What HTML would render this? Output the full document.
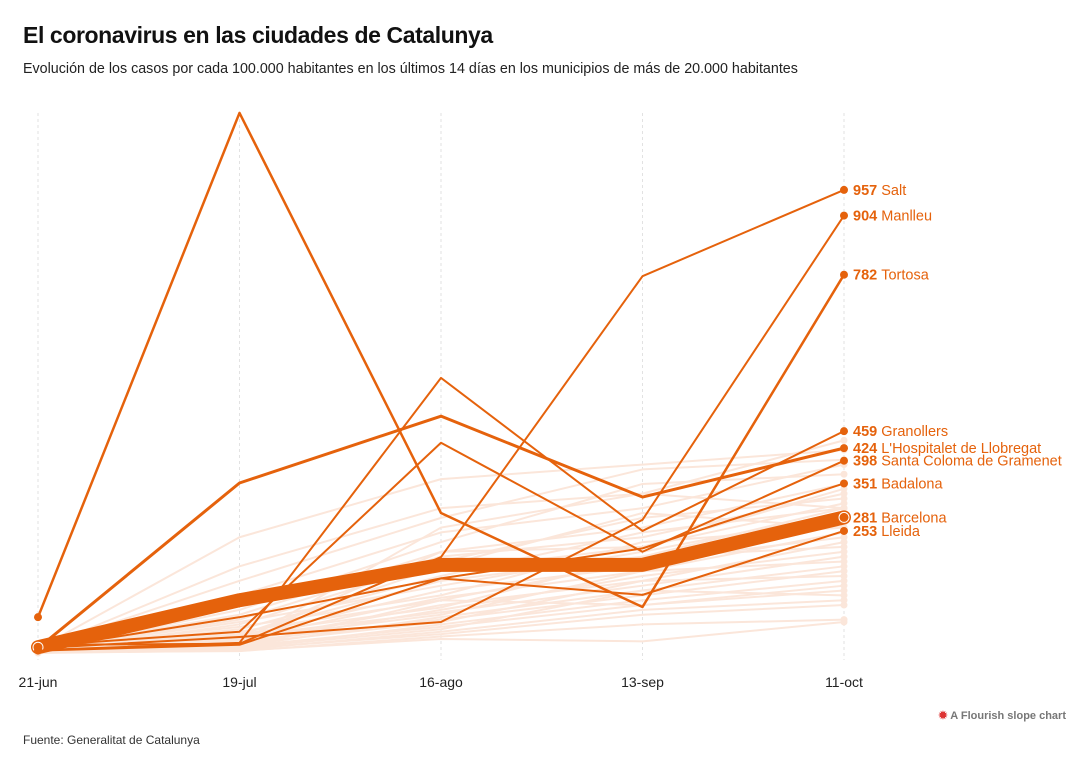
<!DOCTYPE html>
<html><head><meta charset="utf-8">
<style>
body{margin:0;background:#fff;font-family:"Liberation Sans",sans-serif;}
#wrap{position:relative;width:1090px;height:766px;overflow:hidden;}
h1{position:absolute;left:23px;top:22px;margin:0;font-size:23px;font-weight:bold;color:#111;letter-spacing:-0.4px;}
.sub{position:absolute;left:23px;top:61px;font-size:14.3px;color:#222;}
.foot{position:absolute;left:23px;top:733px;font-size:12px;color:#333;}
.credit{position:absolute;right:24px;top:709px;font-size:11px;font-weight:bold;color:#777;}
svg{position:absolute;left:0;top:0;}
</style></head><body>
<div id="wrap">
<h1>El coronavirus en las ciudades de Catalunya</h1>
<div class="sub">Evolución de los casos por cada 100.000 habitantes en los últimos 14 días en los municipios de más de 20.000 habitantes</div>
<svg id="chart" width="1090" height="766"></svg>
<div class="credit"><span style="color:#d33">✹</span> A Flourish slope chart</div>
<div class="foot">Fuente: Generalitat de Catalunya</div>
</div>
<script>
const dates = ["21-jun","19-jul","16-ago","13-sep","11-oct"];
const highNames = ["Salt","Manlleu","Tortosa","Granollers","L'Hospitalet de Llobregat","Santa Coloma de Gramenet","Badalona","Barcelona","Lleida"];
const highValues = [
 [18,20,199,779,957],
 [11,34,65,276,904],
 [75,1116,290,96,782],
 [7,22,569,253,459],
 [11,352,490,323,424],
 [16,45,435,210,398],
 [9,75,155,217,351],
 [13,110,183,183,281],
 [6,18,155,121,253]
];
const highWidths = [2,2,2.5,2,3,2,2,14,2];
const fadedValues = [
 [10,240,360,390,420],[8,180,300,330,440],[12,150,280,380,400],[6,120,250,300,390],
 [5,90,230,350,370],[9,80,210,260,350],[7,70,200,240,330],[4,60,190,280,320],
 [11,100,170,220,310],[6,50,160,250,300],[3,40,150,200,300],[8,65,140,210,290],
 [5,35,130,180,270],[10,55,120,230,260],[4,30,115,170,250],[7,45,110,190,240],
 [3,25,100,150,230],[6,40,95,200,220],[2,20,90,160,210],[5,35,85,140,200],
 [8,30,80,170,190],[3,15,75,130,180],[4,25,70,120,170],[6,20,65,150,160],
 [2,10,60,110,150],[5,15,55,100,140],[3,12,50,130,120],[4,8,45,90,110],
 [2,10,40,80,100],[3,5,35,60,70],[1,6,30,25,65],[4,12,110,100,130],
 [6,28,210,220,340],[5,22,260,330,300],[7,38,180,290,260]
];
const svg = document.getElementById('chart');
const NS = 'http://www.w3.org/2000/svg';
const x0 = 38, xStep = 201.5;
function xs(i){return x0 + i*xStep;}
function ys(v){return 653.5 - v*0.4844;}
function mk(tag, attrs){const e=document.createElementNS(NS,tag);for(const k in attrs)e.setAttribute(k,attrs[k]);svg.appendChild(e);return e;}
const ORANGE = '#e5620c', FADE = '#fbe6da';
dates.forEach((d,i)=>{
  const g = mk('line',{x1:xs(i),x2:xs(i),y1:113,y2:660,stroke:'#e2e2e2','stroke-dasharray':'3,3','stroke-width':1});
  
  
  const t = mk('text',{x:xs(i),y:687,'text-anchor':'middle','font-size':14,fill:'#222','font-family':'Liberation Sans, sans-serif'});
  t.textContent = d;
  
  
});
function pts(vals){return vals.map((v,i)=>xs(i)+','+ys(v)).join(' ');}
fadedValues.forEach((vals,k)=>{
  const p = mk('polyline',{points:pts(vals),fill:'none',stroke:FADE,'stroke-width':2,'stroke-linejoin':'round'});
  
  
  [0,4].forEach(i=>{
    const c = mk('circle',{cx:xs(i),cy:ys(vals[i]),r:3.5,fill:FADE});
    
    
  });
});
highValues.forEach((vals,k)=>{
  const p = mk('polyline',{points:pts(vals),fill:'none',stroke:ORANGE,'stroke-width':highWidths[k],'stroke-linejoin':'round','stroke-linecap':'round'});
  
  
  [0,4].forEach(i=>{
    const c = mk('circle',{cx:xs(i),cy:ys(vals[i]),r:k==7?5:4,fill:ORANGE,stroke:k==7?'#fff':'none','stroke-width':1});
    
    
  });
  const t = mk('text',{x:xs(4)+9,y:ys(vals[4])+5,'font-size':14.5,fill:ORANGE,'font-family':'Liberation Sans, sans-serif'});
  const b = document.createElementNS(NS,'tspan');b.setAttribute('font-weight','bold');b.textContent = vals[4]+' ';
  t.appendChild(b);
  const n = document.createElementNS(NS,'tspan');n.textContent = highNames[k];t.appendChild(n);
  
  
});
</script>
</body></html>
